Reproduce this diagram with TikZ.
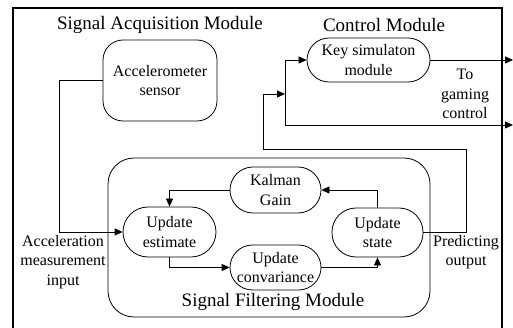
\documentclass[tikz,border=0pt]{standalone}
\usepackage{fontspec}
\setmainfont{Liberation Serif}
\usetikzlibrary{arrows.meta}
\begin{document}
\begin{tikzpicture}[x=1pt,y=-1pt,
  line width=0.8pt,
  arr/.style={-{Triangle[length=8pt,width=7pt]}},
  body/.style={font=\fontsize{16}{19.5}\selectfont, align=center, inner sep=0pt},
  ttl/.style={font=\fontsize{19}{22}\selectfont, inner sep=0pt},
  blk/.style={draw, body, rounded corners=#1},
  blk/.default=22pt]
\useasboundingbox (0,0) rectangle (513,328);
\clip (0,0) rectangle (513,328);
% outer frame
\draw[line width=1.4pt] (13,8) rectangle (502,345);
% titles
\node[ttl] (t1) at (160,25) {Signal Acquisition Module};
\node[ttl] (t2) at (384,25) {Control Module};
% filtering module
\draw (108,158) [rounded corners=26pt] rectangle (430,317);
\node[ttl] (t3) at (273,302) {Signal Filtering Module};
% nodes
\node[blk=20pt, minimum width=114pt, minimum height=81pt] (sensor) at (160,80.5) {Accelerometer\\sensor};
\node[blk=22pt, minimum width=123pt, minimum height=44pt] (key) at (368.5,60) {Key simulaton\\module};
\node[blk=23pt, minimum width=91pt, minimum height=46pt] (kalman) at (275.5,190) {Kalman\\Gain};
\node[blk=25pt, minimum width=93pt, minimum height=50pt] (estimate) at (169.5,232) {Update\\estimate};
\node[blk=22.5pt, minimum width=91pt, minimum height=45pt] (conv) at (275.5,267.5) {Update\\convariance};
\node[blk=24pt, minimum width=91pt, minimum height=49pt] (state) at (377.5,232.5) {Update\\state};
% labels
\node[body] (lacc) at (63,262) {Acceleration\\measurement\\input};
\node[body] (lpred) at (466,252) {Predicting\\output};
\node[body] (lgame) at (465,94) {To\\gaming\\control};
% coordinates
\coordinate (jt) at (285,60);
\coordinate (jb) at (285,125);
\coordinate (out1) at (513,60);
\coordinate (out2) at (513,125);
\coordinate (fb1) at (466,149);
\coordinate (fb2) at (263,94);
\coordinate (fb3) at (285,94);
\coordinate (s1) at (59,80.5);
% connectors
\draw[arr] (sensor.west) -- (s1) |- (estimate.west);
\draw[arr] (key.east) -- (out1);
\draw (jt) -- (jb);
\draw[arr] (jt) -- (key.west);
\draw[arr] (jb) -- (out2);
\draw[arr] (state.east) -| (fb1) -| (fb2) -- (fb3);
\draw[arr] (kalman.west) -| (estimate.north);
\draw[arr] (state.north) |- (kalman.east);
\draw[arr] (estimate.south) |- (conv.west);
\draw[arr] (conv.east) -| (state.south);
\end{tikzpicture}
\end{document}
